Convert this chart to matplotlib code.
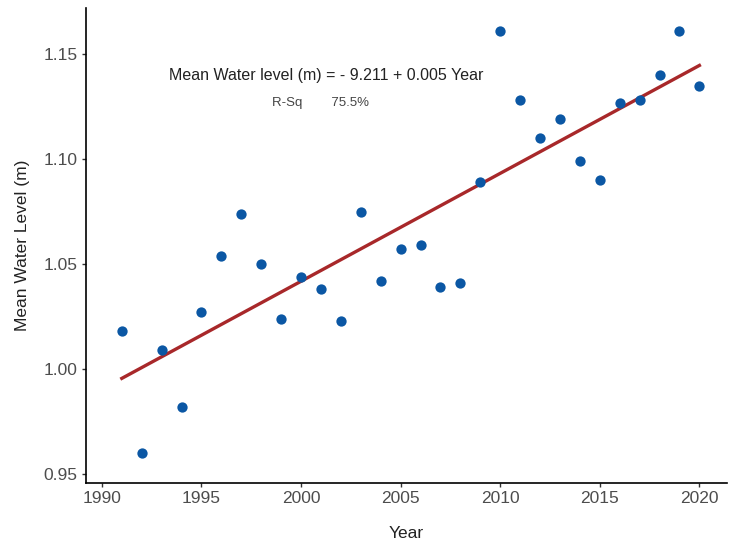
import numpy as np
import matplotlib.pyplot as plt

plt.rcParams['font.family'] = ['Liberation Sans', 'DejaVu Sans']

## data ##
years = list(range(1991, 2021))
water_level = [1.018, 0.960, 1.009, 0.982, 1.027, 1.054, 1.074, 1.050, 1.024, 1.044,
               1.038, 1.023, 1.075, 1.042, 1.057, 1.059, 1.039, 1.041, 1.089, 1.161,
               1.128, 1.110, 1.119, 1.099, 1.090, 1.127, 1.128, 1.140, 1.161, 1.135]
x_ticks = [1990, 1995, 2000, 2005, 2010, 2015, 2020]
y_ticks = [0.95, 1.00, 1.05, 1.10, 1.15]

fig = plt.figure(figsize=(7.3, 5.48), dpi=100)
ax = fig.add_axes([0.118, 0.119, 0.878, 0.866])

x = np.array(years)
y = np.array(water_level)
slope, intercept = np.polyfit(x, y, 1)
ax.plot(x, intercept + slope * x, color='#a8282a', lw=2.4, zorder=2)
ax.scatter(x, y, s=55, color='#0b57a4', zorder=3, linewidths=0)

ax.set_xlim(1989.21, 2021.39)
ax.set_ylim(0.9457, 1.172)
ax.set_xticks(x_ticks)
ax.set_yticks(y_ticks)
ax.set_yticklabels([f'{v:.2f}' for v in y_ticks])

for side in ['top', 'right']:
    ax.spines[side].set_visible(False)
for side in ['left', 'bottom']:
    ax.spines[side].set_linewidth(1.2)
    ax.spines[side].set_color('black')
ax.tick_params(direction='out', length=3, width=1, color='#333333',
               labelsize=12.5, labelcolor='#4d4d4d', pad=3)

ax.set_xlabel('Year', fontsize=12.5, color='#222222', labelpad=14)
ax.set_ylabel('Mean Water Level (m)', fontsize=12.5, color='#222222', labelpad=10)

ax.text(0.375, 0.859, 'Mean Water level (m) = - 9.211 + 0.005 Year', transform=ax.transAxes,
        ha='center', va='center', fontsize=11.5, color='#222222')
ax.text(0.365, 0.80, 'R-Sq        75.5%', transform=ax.transAxes,
        ha='center', va='center', fontsize=9.5, color='#444444')

fig.savefig('out.png', dpi=100)
